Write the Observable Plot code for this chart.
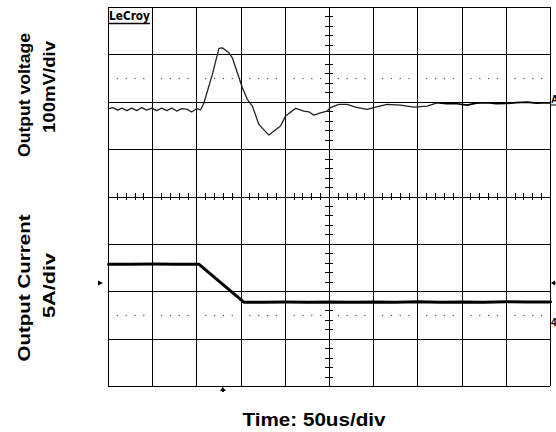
<!DOCTYPE html>
<html>
<head>
<meta charset="utf-8">
<script src="https://cdn.jsdelivr.net/npm/d3@7"></script>
<script src="https://cdn.jsdelivr.net/npm/@observablehq/plot@0.6"></script>
<style>
  html, body { margin: 0; padding: 0; background: #fff; }
  #chart { width: 556px; height: 432px; }
</style>
</head>
<body>
<div id="chart"></div>
<script>
// ---- Data (read from the scope capture) ----
// Time axis: 10 divisions x 50 us/div
const timeDomainUs = [0, 500];
const divisionsY = [-4, 4];

// Channel 1: output voltage deviation (mV), 100 mV/div
const voltageTimeUs = [0.3, 4.9, 10.5, 15.0, 20.7, 26.3, 32.0, 37.6, 43.3, 48.9, 54.6, 60.2, 65.9, 71.5, 77.2, 82.8, 88.5, 94.1, 99.8, 104.3,
  108.0, 117.5, 124.9, 128.8, 136.2, 140.1, 151.4, 157.0, 162.7, 170.1, 181.4, 194.6, 200.3, 211.6, 215.3, 221.0, 226.6, 232.3, 239.8, 247.4,
  251.1, 260.5, 270.0, 279.4, 292.6, 302.0, 315.2, 330.2, 345.2, 360.4, 371.7, 382.2, 394.3, 405.6, 416.1, 428.2, 438.7, 450.7, 461.3, 473.3, 483.9, 495.9, 499.7];
const voltageMv = [1.1, 3.2, -2.1, 2.1, -3.2, 2.1, -3.2, 3.2, -2.1, 2.1, -3.2, 2.1, -3.2, 2.1, -4.2, 1.1, 0, -6.3, 1.1, -1.5,
  13.3, 73.2, 128, 129.3, 118.8, 108.2, 44.9, 20.5, 6.3, -32.3, -54.9, -35.9, -14.8, 1.5, -0.6, -4.2, -5.7, -12.7, -7.8, -4.2,
  3.2, 9.9, 9.9, 4.2, -0.6, 4.2, 9.9, 8.4, 4.2, 6.3, 13.3, 11.6, 11.2, 8.4, 12.7, 13.3, 11.6, 12.0, 13.7, 14.8, 12.7, 13.3, 13.0];
const voltageOffsetDiv = 1.856;
const voltagePerDivMv = 100;

// Channel 2: output current (A), 5 A/div
const currentTimeUs = [0, 25, 50, 75, 102.5, 153, 175, 200, 225, 250, 275, 300, 325, 350, 375, 400, 425, 450, 475, 500];
const currentA = [6.0, 6.0, 6.02, 6.0, 6.0, 2.0, 2.0, 2.02, 2.0, 2.03, 1.99, 2.03, 2.0, 2.04, 2.0, 2.03, 2.0, 2.04, 2.01, 2.03];
const currentOffsetDiv = -2.62;
const currentPerDivA = 5;

// Labels
const labelVoltage = ["Output voltage", "100mV/div"];
const labelCurrent = ["Output Current", "5A/div"];
const labelTime = "Time: 50us/div";
const triggerTimeUs = 130;

// ---- Build tables ----
const vData = voltageTimeUs.map((t, i) => ({t, div: voltageOffsetDiv + voltageMv[i] / voltagePerDivMv}));
const iData = currentTimeUs.map((t, i) => ({t, div: currentOffsetDiv + currentA[i] / currentPerDivA}));
const majorX = d3.range(0, 501, 50);
const majorY = d3.range(-4, 5, 1);
const subX = d3.range(10, 500, 10);
const subY = d3.range(-3.8, 4, 0.2).map(d => Math.round(d * 10) / 10);
const dotX = subX.filter(d => d % 50 !== 0);
const dots = [2.5, -2.5].flatMap(y => dotX.map(x => ({x, y})));

const svg = Plot.plot({
  width: 556,
  height: 432,
  marginLeft: 108,
  marginRight: 6,
  marginTop: 7,
  marginBottom: 46,
  x: {domain: timeDomainUs, axis: null},
  y: {domain: divisionsY, axis: null},
  style: {background: "#fff"},
  marks: [
    Plot.ruleX(majorX, {stroke: "#000", strokeWidth: 1, shapeRendering: "crispEdges"}),
    Plot.ruleY(majorY, {stroke: "#000", strokeWidth: 1, shapeRendering: "crispEdges"}),
    Plot.ruleX(subX, {x: d => d, y1: -0.065, y2: 0.065, stroke: "#000", shapeRendering: "crispEdges"}),
    Plot.ruleY(subY, {y: d => d, x1: 245.5, x2: 254.5, stroke: "#000", shapeRendering: "crispEdges"}),
    Plot.dot(dots, {x: "x", y: "y", r: 0.7, fill: "#555", stroke: "none"}),
    Plot.line(vData.filter(d => d.t <= 372), {x: "t", y: "div", stroke: "#222", strokeWidth: 1.3}),
    Plot.line(vData.filter(d => d.t >= 371.7), {x: "t", y: "div", stroke: "#000", strokeWidth: 1.7}),
    Plot.line(iData, {x: "t", y: "div", stroke: "#000", strokeWidth: 3})
  ]
});

const s = d3.select(svg);
const font = "'Liberation Sans', Arial, Helvetica, sans-serif";
function vlabel(text, x, y, len, size) {
  s.append("text")
    .attr("transform", `translate(${x},${y}) rotate(-90)`)
    .attr("text-anchor", "middle")
    .attr("font-family", font)
    .attr("font-weight", "bold")
    .attr("font-size", size)
    .attr("fill", "#000")
    .attr("textLength", len)
    .attr("lengthAdjust", "spacingAndGlyphs")
    .text(text);
}
vlabel(labelVoltage[0], 30, 95, 124, 16);
vlabel(labelVoltage[1], 55, 87, 92, 16);
vlabel(labelCurrent[0], 30, 288, 147, 16);
vlabel(labelCurrent[1], 55, 285.5, 65, 16);

s.append("text")
  .attr("x", 314).attr("y", 426)
  .attr("text-anchor", "middle")
  .attr("font-family", font)
  .attr("font-weight", "bold")
  .attr("font-size", 18.5)
  .attr("fill", "#000")
  .attr("textLength", 143)
  .attr("lengthAdjust", "spacingAndGlyphs")
  .text(labelTime);

// LeCroy logo
s.append("text")
  .attr("x", 109).attr("y", 20)
  .attr("text-anchor", "start")
  .attr("font-family", "'DejaVu Sans', sans-serif")
  .attr("font-weight", "bold")
  .attr("font-size", 12)
  .attr("fill", "#000")
  .attr("textLength", 41)
  .attr("lengthAdjust", "spacingAndGlyphs")
  .text("LeCroy");
s.append("line").attr("x1", 109).attr("x2", 150).attr("y1", 23.5).attr("y2", 23.5)
  .attr("stroke", "#000").attr("stroke-width", 1.5);

// Channel markers
s.append("path").attr("d", "M98,280.5L103,283L98,285.5Z").attr("fill", "#000");
s.append("path").attr("d", "M551,283L555,280.5L555,285.5Z").attr("fill", "#000");
s.append("line").attr("x1", 553).attr("x2", 556).attr("y1", 283).attr("y2", 283).attr("stroke", "#000");
s.append("text").attr("x", 551).attr("y", 103).attr("text-anchor", "start").attr("font-family", font).attr("font-weight", "bold")
  .attr("font-size", 10).attr("fill", "#000").text("A");
s.append("line").attr("x1", 551).attr("x2", 556).attr("y1", 105).attr("y2", 105).attr("stroke", "#000");
s.append("text").attr("x", 551).attr("y", 326).attr("text-anchor", "start").attr("font-family", font).attr("font-weight", "bold")
  .attr("font-size", 10).attr("fill", "#000").text("4");

// Trigger marker
const tx = svg.scale("x").apply(triggerTimeUs);
s.append("path").attr("d", `M${tx - 3},391L${tx},387L${tx + 3},391Z`).attr("fill", "#000");
s.append("rect").attr("x", tx - 1).attr("y", 390).attr("width", 2).attr("height", 2).attr("fill", "#000");

document.getElementById("chart").appendChild(svg);
</script>
</body>
</html>
